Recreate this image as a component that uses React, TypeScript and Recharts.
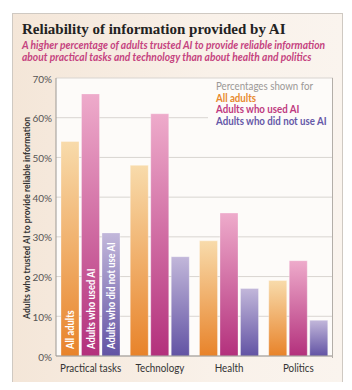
import React from 'react';
import { BarChart, Bar, XAxis, YAxis, CartesianGrid, LabelList } from 'recharts';

const categories = ['Practical tasks', 'Technology', 'Health', 'Politics'];
const allAdults = [54, 48, 29, 19];
const usedAI = [66, 61, 36, 24];
const notUsedAI = [31, 25, 17, 9];
const yTicks = [0, 10, 20, 30, 40, 50, 60, 70];
const seriesNames = ['All adults', 'Adults who used AI', 'Adults who did not use AI'];
const title = 'Reliability of information provided by AI';
const subtitle = [
  'A higher percentage of adults trusted AI to provide reliable information',
  'about practical tasks and technology than about health and politics',
];
const yLabel = 'Adults who trusted AI to provide reliable information';
const legendTitle = 'Percentages shown for';

const data = categories.map((c, i) => ({
  category: c,
  all: allAdults[i],
  used: usedAI[i],
  notUsed: notUsedAI[i],
}));

const SANS = 'Lato, "Open Sans", sans-serif';
const colors = { all: '#e8892d', used: '#bf3a80', notUsed: '#6558a8' };

const makeInnerLabel = (text: string) => (props: any) => {
  const vb = props.viewBox || {};
  const x = props.x ?? vb.x;
  const y = props.y ?? vb.y;
  const width = props.width ?? vb.width;
  const height = props.height ?? vb.height;
  if (props.index !== 0) return null;
  const cx = x + width / 2;
  const by = y + height - 7;
  return (
    <text
      x={0}
      y={0}
      transform={`translate(${cx} ${by}) rotate(-90) scale(0.885 1)`}
      fill="#ffffff"
      fontSize={10.6}
      fontWeight={700}
      fontFamily={SANS}
      dominantBaseline="central"
      textAnchor="start"
    >
      {text}
    </text>
  );
};

const YLabel = () => (
  <text
    x={18}
    y={210}
    transform="rotate(-90 18 210)"
    textAnchor="middle"
    dominantBaseline="central"
    fontSize={10.2}
    fontWeight={700}
    fontFamily={SANS}
    fill="#333"
    textLength={202}
    lengthAdjust="spacingAndGlyphs"
  >
    {yLabel}
  </text>
);

const XTick = (props: any) => {
  const { x, y, payload } = props;
  return (
    <text
      x={0}
      y={0}
      transform={`translate(${x} ${y}) scale(0.9 1)`}
      textAnchor="middle"
      dy="0.71em"
      fill="#333"
      fontSize={10.9}
      fontFamily={SANS}
    >
      {payload.value}
    </text>
  );
};

export default function App() {
  return (
    <div style={{ position: 'relative', width: 336, height: 374 }}>
      <div
        style={{
          position: 'absolute',
          left: 4,
          top: 5,
          width: 329,
          height: 368,
          border: '1px solid #cfc9c2',
          background: 'linear-gradient(to right, #f4e6d8, #f9f1e9 60%, #faf4ee)',
        }}
      />
      <div
        style={{
          position: 'absolute',
          left: 14,
          top: 11,
          fontFamily: '"Liberation Serif", serif',
          fontWeight: 700,
          fontSize: 15,
          color: '#222',
          whiteSpace: 'nowrap',
          lineHeight: '20px',
        }}
      >
        {title}
      </div>
      <div
        style={{
          position: 'absolute',
          left: 14,
          top: 32,
          fontFamily: SANS,
          fontStyle: 'italic',
          fontWeight: 700,
          fontSize: 10.4,
          color: '#c5437f',
          whiteSpace: 'nowrap',
          lineHeight: '11.5px',
          transform: 'scaleX(0.985)',
          transformOrigin: 'left top',
        }}
      >
        {subtitle.map((s) => (
          <div key={s}>{s}</div>
        ))}
      </div>
      <div style={{ position: 'absolute', left: 0, top: 0 }}>
        <BarChart
          width={336}
          height={374}
          data={data}
          margin={{ top: 70, right: 11, left: 18, bottom: 4 }}
          barSize={18}
          barGap={2.5}
        >
          <defs>
            <linearGradient id="gAll" x1="0" y1="0" x2="0" y2="1">
              <stop offset="0%" stopColor="#f8dbab" />
              <stop offset="100%" stopColor="#e8832a" />
            </linearGradient>
            <linearGradient id="gUsed" x1="0" y1="0" x2="0" y2="1">
              <stop offset="0%" stopColor="#eeabcb" />
              <stop offset="100%" stopColor="#b3307c" />
            </linearGradient>
            <linearGradient id="gNot" x1="0" y1="0" x2="0" y2="1">
              <stop offset="0%" stopColor="#c2b7da" />
              <stop offset="100%" stopColor="#6253a4" />
            </linearGradient>
          </defs>
          <CartesianGrid vertical={false} stroke="#d9d5d1" fill="#fdfbf9" />
          <XAxis
            dataKey="category"
            tickLine={false}
            axisLine={{ stroke: '#9c9893' }}
            tickSize={0}
            tickMargin={8}
            height={22}
            tick={<XTick />}
            interval={0}
          />
          <YAxis
            domain={[0, 70]}
            ticks={yTicks}
            width={30}
            tickLine={false}
            axisLine={{ stroke: '#9c9893' }}
            tickSize={0}
            tickMargin={4}
            tickFormatter={(v: number) => `${v}%`}
            tick={{ fill: '#555', fontSize: 10, fontFamily: SANS, dy: 1 }}
            label={<YLabel />}
          />
          <Bar dataKey="all" fill="url(#gAll)" isAnimationActive={false} stroke="#ffffff" strokeOpacity={0.5} strokeWidth={0.6}>
            <LabelList dataKey="all" content={makeInnerLabel(seriesNames[0])} />
          </Bar>
          <Bar dataKey="used" fill="url(#gUsed)" isAnimationActive={false} stroke="#ffffff" strokeOpacity={0.5} strokeWidth={0.6}>
            <LabelList dataKey="used" content={makeInnerLabel(seriesNames[1])} />
          </Bar>
          <Bar dataKey="notUsed" fill="url(#gNot)" isAnimationActive={false} stroke="#ffffff" strokeOpacity={0.5} strokeWidth={0.6}>
            <LabelList dataKey="notUsed" content={makeInnerLabel(seriesNames[2])} />
          </Bar>
        </BarChart>
      </div>
      <div
        style={{
          position: 'absolute',
          left: 48,
          top: 70,
          width: 276,
          height: 280,
          borderRight: '1px solid #b3aea8',
          pointerEvents: 'none',
        }}
      />
      <div
        style={{
          position: 'absolute',
          left: 200,
          top: 71,
          width: 124,
          height: 51,
          background: '#fdfbf9',
        }}
      />
      <div
        style={{
          position: 'absolute',
          left: 208,
          top: 73,
          fontFamily: SANS,
          fontSize: 10.5,
          lineHeight: '11.7px',
          whiteSpace: 'nowrap',
          transform: 'scaleX(0.925)',
          transformOrigin: 'left top',
        }}
      >
        <div style={{ color: '#9b9896' }}>{legendTitle}</div>
        <div style={{ color: colors.all, fontWeight: 700 }}>{seriesNames[0]}</div>
        <div style={{ color: colors.used, fontWeight: 700 }}>{seriesNames[1]}</div>
        <div style={{ color: colors.notUsed, fontWeight: 700 }}>{seriesNames[2]}</div>
      </div>
    </div>
  );
}
